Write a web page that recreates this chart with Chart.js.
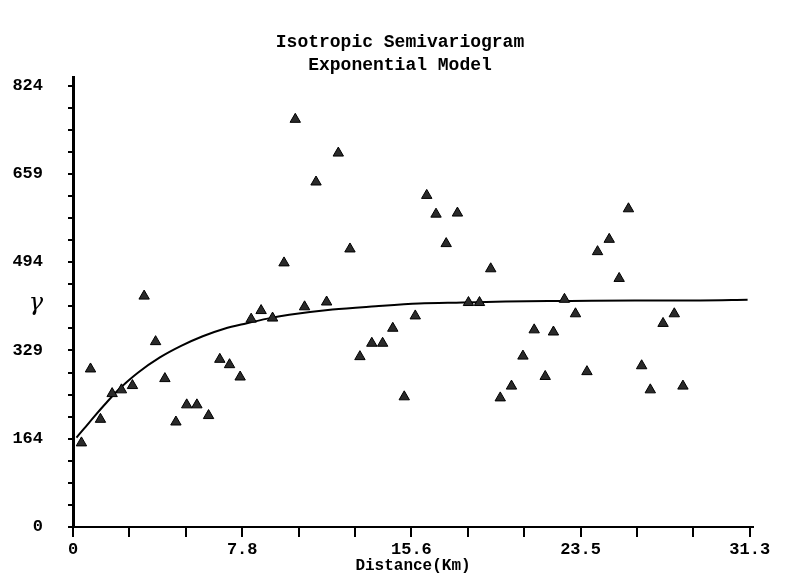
<!DOCTYPE html>
<html lang="en">
<head>
    <meta charset="UTF-8">
    <title>Isotropic Semivariogram</title>
    <script src="https://cdn.jsdelivr.net/npm/chart.js@4.4.0/dist/chart.umd.min.js"></script>
    <style>
        html, body { margin: 0; padding: 0; background: #fff; }
        #box { width: 801px; height: 576px; }
    </style>
</head>
<body>
    <div id="box"><canvas id="myChart" width="801" height="576"></canvas></div>

    <script>
        // lag distance (km) and semivariance of each lag class
        var lagDistance = [
            0.39, 0.81, 1.27, 1.81, 2.24, 2.75, 3.29, 3.82, 4.25, 4.76,
            5.26, 5.73, 6.27, 6.79, 7.24, 7.73, 8.24, 8.70, 9.23, 9.76,
            10.28, 10.71, 11.24, 11.73, 12.27, 12.81, 13.27, 13.82, 14.32, 14.79,
            15.32, 15.83, 16.36, 16.79, 17.26, 17.78, 18.29, 18.80, 19.32, 19.76,
            20.28, 20.81, 21.33, 21.84, 22.22, 22.73, 23.24, 23.77, 24.26, 24.80,
            25.26, 25.69, 26.30, 26.70, 27.29, 27.81, 28.21
        ];
        var semivariance = [
            157, 295, 201, 249, 256, 264, 431, 346, 277, 196,
            228, 228, 208, 313, 303, 280, 388, 404, 390, 493,
            761, 411, 644, 420, 698, 519, 318, 343, 343, 371,
            243, 394, 619, 584, 529, 586, 419, 419, 482, 241,
            263, 319, 368, 281, 364, 425, 398, 290, 514, 537,
            464, 594, 301, 256, 380, 398, 263
        ];

        // exponential model curve
        var modelDistance = [0.16, 0.5, 1, 1.5, 2, 2.5, 3, 4, 5, 6, 7, 8, 9, 10, 12, 14, 16, 18, 20, 23, 26, 29, 31.2];
        var modelGamma    = [167, 183, 207, 230, 252, 271, 288, 316, 338, 356, 370, 380, 389, 396, 406, 412, 417, 419, 421, 422, 423, 423, 424];

        var titleLines = ['Isotropic Semivariogram', 'Exponential Model'];
        var xTickLabels = ["0", "7.8", "15.6", "23.5", "31.3"];
        var yTickLabels = ["0", "164", "329", "494", "659", "824"];
        var xTop = 31.3;
        var yTop = 824;

        var mono = "'Liberation Mono', 'DejaVu Sans Mono', monospace";

        var points = lagDistance.map(function (d, i) { return { x: d, y: semivariance[i] }; });
        var model = modelDistance.map(function (d, i) { return { x: d, y: modelGamma[i] }; });

        // title centred on the page and the gamma symbol beside the y axis
        var extraText = {
            id: 'extraText',
            afterDraw: function (chart) {
                var ctx = chart.ctx;
                ctx.save();
                ctx.fillStyle = '#000';
                ctx.textAlign = 'center';
                ctx.textBaseline = 'middle';
                ctx.font = "bold 18px " + mono;
                ctx.fillText(titleLines[0], 400, 42);
                ctx.fillText(titleLines[1], 400, 65);
                ctx.font = "italic 24px 'DejaVu Serif', serif";
                ctx.fillText('\u03B3', 36, 304);
                ctx.restore();
            }
        };

        var ctx = document.getElementById("myChart").getContext("2d");
        var myChart = new Chart(ctx,
        {
            type: 'scatter',
            data: {
                datasets: [
                    {
                        label: 'Semivariance',
                        data: points,
                        pointStyle: 'triangle',
                        pointRadius: 6,
                        pointBackgroundColor: '#2a2a2a',
                        pointBorderColor: '#000',
                        pointBorderWidth: 1
                    },
                    {
                        label: 'Exponential Model',
                        type: 'line',
                        data: model,
                        borderColor: '#000',
                        borderWidth: 2,
                        pointRadius: 0,
                        cubicInterpolationMode: 'monotone',
                        fill: false
                    }
                ]
            },
            options: {
                responsive: false,
                animation: false,
                layout: { autoPadding: false, padding: { left: 0, right: 48, top: 77, bottom: 0 } },
                plugins: {
                    legend: { display: false },
                    tooltip: { enabled: false },
                    title: { display: false }
                },
                scales: {
                    x: {
                        type: 'linear',
                        min: 0,
                        max: 31.45,
                        afterFit: function (s) { s.height = 49; },
                        afterBuildTicks: function (s) {
                            var t = [];
                            for (var k = 0; k <= 12; k++) t.push({ value: k * xTop / 12 });
                            s.ticks = t;
                        },
                        ticks: {
                            autoSkip: false,
                            maxRotation: 0,
                            padding: 3,
                            color: '#000',
                            font: { family: mono, size: 17, weight: 'bold' },
                            callback: function (v, i) { return i % 3 === 0 ? xTickLabels[i / 3] : ''; }
                        },
                        grid: { drawOnChartArea: false, drawTicks: true, tickLength: 10, tickColor: '#000', lineWidth: 2 },
                        border: { display: true, color: '#000', width: 2 },
                        title: {
                            display: true,
                            text: 'Distance(Km)',
                            color: '#000',
                            font: { family: mono, size: 16, weight: 'bold' },
                            padding: 0
                        }
                    },
                    y: {
                        min: 0,
                        max: 840,
                        afterFit: function (s) { s.width = 73; },
                        afterBuildTicks: function (s) {
                            var t = [];
                            for (var k = 0; k <= 20; k++) t.push({ value: k * yTop / 20 });
                            s.ticks = t;
                        },
                        ticks: {
                            autoSkip: false,
                            padding: 25,
                            color: '#000',
                            font: { family: mono, size: 17, weight: 'bold' },
                            callback: function (v, i) { return i % 4 === 0 ? yTickLabels[i / 4] : ''; }
                        },
                        grid: { drawOnChartArea: false, drawTicks: true, tickLength: 5, tickColor: '#000', lineWidth: 2 },
                        border: { display: true, color: '#000', width: 3 }
                    }
                }
            },
            plugins: [extraText]
        });
    </script>
</body>
</html>
